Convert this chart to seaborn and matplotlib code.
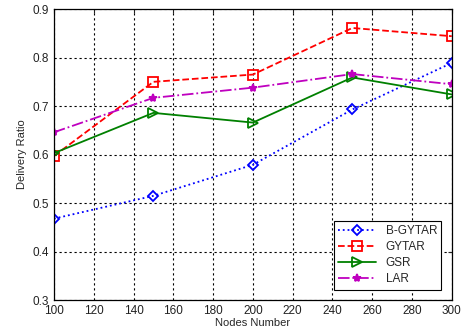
import matplotlib
matplotlib.use("Agg")
import matplotlib.pyplot as plt
import numpy as np
import pandas as pd
import seaborn as sns

NODES = [100, 150, 200, 250, 300]
B_GYTAR = [0.468, 0.515, 0.579, 0.693, 0.789]
GYTAR = [0.597, 0.750, 0.765, 0.861, 0.844]
GSR = [0.603, 0.686, 0.666, 0.759, 0.724]
LAR = [0.646, 0.717, 0.738, 0.766, 0.745]

# name: values, colour, line style, marker, marker size
SERIES = {
    "B-GYTAR": (B_GYTAR, "#0000ff", ":", "D", 5),
    "GYTAR": (GYTAR, "#ff0000", "--", "s", 6.5),
    "GSR": (GSR, "#008000", "-", ">", 7),
    "LAR": (LAR, "#bf00bf", "-.", "*", 6),
}

sns.set_style("white")
plt.rcParams["font.family"] = ["Liberation Sans", "DejaVu Sans"]

fig = plt.figure(figsize=(4.61, 3.35), dpi=100)
ax = fig.add_axes([0.117, 0.104, 0.863, 0.869])

for name, (values, color, ls, marker, size) in SERIES.items():
    frame = pd.DataFrame({"Nodes": NODES, "Ratio": values})
    sns.lineplot(
        data=frame, x="Nodes", y="Ratio", ax=ax, color=color, linestyle=ls,
        marker=marker, markersize=size,
        markerfacecolor="none" if marker != "*" else color,
        markeredgecolor=color, markeredgewidth=1.3, linewidth=1.3, label=name,
    )

ax.set_xlim(100, 300)
ax.set_ylim(0.3, 0.9)
ax.set_xticks(np.arange(100, 301, 20))
ax.set_yticks(np.arange(0.3, 0.91, 0.1))
ax.set_yticklabels([f"{v:.1f}" for v in np.arange(0.3, 0.91, 0.1)])
ax.grid(True, color="black", linestyle=(0, (2, 2.5)), linewidth=0.8)
ax.tick_params(direction="in", labelsize=8.5, length=3, colors="#222222", top=True, right=True)
for spine in ax.spines.values():
    spine.set_color("black")
    spine.set_linewidth(0.9)
ax.set_xlabel("Nodes Number", fontsize=8, labelpad=1)
ax.set_ylabel("Delivery Ratio", fontsize=8, labelpad=4)

leg = ax.legend(loc="lower right", fontsize=8.5, fancybox=False, framealpha=1,
                edgecolor="black", handlelength=3.2, borderaxespad=0.9,
                labelspacing=0.35, borderpad=0.35)
leg.get_frame().set_linewidth(0.8)

fig.savefig("out.png", dpi=100)
